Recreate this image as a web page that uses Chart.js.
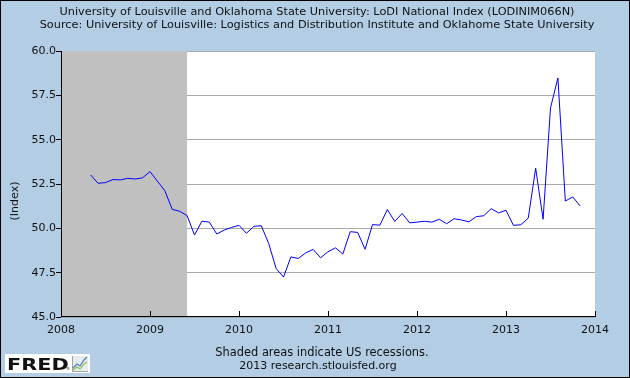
<!DOCTYPE html>
<html>
<head>
<meta charset="utf-8">
<title>LoDI National Index</title>
<script src="https://cdn.jsdelivr.net/npm/chart.js@4.4.1/dist/chart.umd.min.js"></script>
<style>
  html, body { margin: 0; padding: 0; background: #b3cde5; }
  #wrap { width: 630px; height: 378px; }
</style>
</head>
<body>
<div id="wrap"><canvas id="lodiChart" width="630" height="378"></canvas></div>
<script>
const months = [
  "2008-05", "2008-06", "2008-07", "2008-08", "2008-09", "2008-10", "2008-11", "2008-12",
  "2009-01", "2009-02", "2009-03", "2009-04", "2009-05", "2009-06", "2009-07", "2009-08", "2009-09", "2009-10", "2009-11", "2009-12",
  "2010-01", "2010-02", "2010-03", "2010-04", "2010-05", "2010-06", "2010-07", "2010-08", "2010-09", "2010-10", "2010-11", "2010-12",
  "2011-01", "2011-02", "2011-03", "2011-04", "2011-05", "2011-06", "2011-07", "2011-08", "2011-09", "2011-10", "2011-11", "2011-12",
  "2012-01", "2012-02", "2012-03", "2012-04", "2012-05", "2012-06", "2012-07", "2012-08", "2012-09", "2012-10", "2012-11", "2012-12",
  "2013-01", "2013-02", "2013-03", "2013-04", "2013-05", "2013-06", "2013-07", "2013-08", "2013-09", "2013-10", "2013-11"
];
const lodiValues = [
  53.01, 52.54, 52.58, 52.75, 52.73, 52.82, 52.78, 52.85,
  53.20, 52.66, 52.12, 51.07, 50.96, 50.72, 49.62, 50.40, 50.35, 49.68, 49.90, 50.05,
  50.17, 49.72, 50.11, 50.15, 49.15, 47.74, 47.25, 48.39, 48.30, 48.62, 48.81, 48.34,
  48.68, 48.90, 48.55, 49.81, 49.77, 48.82, 50.21, 50.18, 51.06, 50.39, 50.84, 50.31,
  50.35, 50.40, 50.35, 50.51, 50.26, 50.54, 50.47, 50.37, 50.66, 50.71, 51.11, 50.87,
  51.02, 50.17, 50.20, 50.58, 53.39, 50.51, 56.79, 58.48, 51.54, 51.77, 51.26
];
const yTicks = [45.0, 47.5, 50.0, 52.5, 55.0, 57.5, 60.0];
const xTicks = [2008, 2009, 2010, 2011, 2012, 2013, 2014];
// recession periods (start month, end month)
const recessions = [["2007-12", "2009-06"]];

const titleLines = [
  "University of Louisville and Oklahoma State University: LoDI National Index (LODINIM066N)",
  "Source: University of Louisville: Logistics and Distribution Institute and Oklahome State University"
];
const captionLines = ["Shaded areas indicate US recessions.", "2013 research.stlouisfed.org"];

// "2008-05" -> 2008.333
function toYear(s) {
  const [y, m] = s.split("-").map(Number);
  return y + (m - 1) / 12;
}

const points = months.map((m, i) => ({ x: toYear(m), y: lodiValues[i] }));
const FONT = "'DejaVu Sans', Verdana, sans-serif";

// background, recession shading, axes and the FRED texts
const fredPlugin = {
  id: "fredFrame",
  beforeDraw(chart) {
    const { ctx, chartArea: a } = chart;
    ctx.save();
    ctx.fillStyle = "#b3cde5";
    ctx.fillRect(0, 0, chart.width, chart.height);
    ctx.fillStyle = "#ffffff";
    ctx.fillRect(a.left, a.top, a.right - a.left, a.bottom - a.top);
    ctx.restore();
  },
  beforeDatasetsDraw(chart) {
    const { ctx, chartArea: a, scales } = chart;
    const x = scales.x;
    ctx.save();
    ctx.fillStyle = "#c0c0c0";
    recessions.forEach(([s, e]) => {
      const x0 = Math.max(x.getPixelForValue(toYear(s)), a.left);
      const x1 = Math.min(x.getPixelForValue(toYear(e)), a.right);
      if (x1 > x0) ctx.fillRect(x0, a.top, x1 - x0, a.bottom - a.top);
    });
    ctx.restore();
  },
  afterDatasetsDraw(chart) {
    const { ctx, chartArea: a, scales } = chart;
    ctx.save();
    ctx.strokeStyle = "#000";
    ctx.lineWidth = 1;
    ctx.beginPath();
    ctx.moveTo(a.left + 0.5, a.top);
    ctx.lineTo(a.left + 0.5, a.bottom - 0.5);
    ctx.lineTo(a.right + 0.5, a.bottom - 0.5);
    // x ticks point up into the plot
    xTicks.forEach((t) => {
      const px = Math.round(scales.x.getPixelForValue(t)) + 0.5;
      ctx.moveTo(px, a.bottom);
      ctx.lineTo(px, a.bottom - 6);
    });
    ctx.stroke();
    ctx.restore();
  },
  afterDraw(chart) {
    const { ctx } = chart;
    ctx.save();
    ctx.fillStyle = "#111";
    ctx.textAlign = "center";
    ctx.textBaseline = "alphabetic";
    ctx.font = "11.3px " + FONT;
    ctx.fillText(titleLines[0], 317, 15);
    ctx.fillText(titleLines[1], 317, 28);
    ctx.font = "11.4px " + FONT;
    ctx.fillText(captionLines[0], 322, 356);
    ctx.font = "11px " + FONT;
    ctx.fillText(captionLines[1], 318, 368.5);

    // y axis title
    ctx.save();
    ctx.translate(18, 201);
    ctx.rotate(-Math.PI / 2);
    ctx.textBaseline = "alphabetic";
    ctx.font = "11px " + FONT;
    ctx.fillText("(Index)", 0, 0);
    ctx.restore();

    // FRED logo
    ctx.fillStyle = "#ffffff";
    ctx.fillRect(5, 354, 85, 19);
    ctx.save();
    ctx.translate(7, 369.5);
    ctx.scale(1.3, 1);
    ctx.fillStyle = "#111";
    ctx.textAlign = "left";
    ctx.font = "bold 16px " + FONT;
    ctx.fillText("FRED", 0, 0);
    ctx.restore();
    ctx.fillStyle = "#111";
    ctx.font = "4px " + FONT;
    ctx.fillText("®", 68, 370);
    // little chart icon
    ctx.fillStyle = "#e8ecef";
    ctx.fillRect(72, 356, 16, 16);
    ctx.strokeStyle = "#9aa4ad";
    ctx.beginPath();
    ctx.moveTo(72.5, 356); ctx.lineTo(72.5, 371.5); ctx.lineTo(88, 371.5);
    ctx.stroke();
    ctx.lineWidth = 1.2;
    ctx.strokeStyle = "#4a7fc1";
    ctx.beginPath();
    ctx.moveTo(73, 368); ctx.lineTo(77, 364); ctx.lineTo(80, 366); ctx.lineTo(84, 360); ctx.lineTo(87, 357);
    ctx.stroke();
    ctx.strokeStyle = "#8fbf4a";
    ctx.beginPath();
    ctx.moveTo(73, 370); ctx.lineTo(77, 367); ctx.lineTo(80, 369); ctx.lineTo(84, 364); ctx.lineTo(87, 362);
    ctx.stroke();

    // frame
    ctx.strokeStyle = "#000";
    ctx.lineWidth = 1;
    ctx.strokeRect(0.5, 0.5, chart.width - 1, chart.height - 1);
    ctx.restore();
  }
};

const ctx = document.getElementById("lodiChart").getContext("2d");

new Chart(ctx, {
  type: "line",
  data: {
    datasets: [
      {
        label: "LoDI National Index",
        data: points,
        borderColor: "#0000ff",
        borderWidth: 1,
        pointRadius: 0,
        tension: 0,
        fill: false,
      },
    ],
  },
  options: {
    responsive: false,
    animation: false,
    events: [],
    layout: { padding: { left: 0, right: 35, top: 51, bottom: 0 } },
    plugins: {
      legend: { display: false },
      tooltip: { enabled: false },
      title: { display: false },
    },
    scales: {
      x: {
        type: "linear",
        min: 2008,
        max: 2014,
        afterBuildTicks: (scale) => {
          scale.ticks = xTicks.map((v) => ({ value: v }));
        },
        afterFit: (scale) => {
          scale.height = 61;
        },
        grid: { display: false, drawTicks: false },
        border: { display: false },
        ticks: {
          padding: 7,
          color: "#111",
          font: { family: FONT, size: 11 },
          maxRotation: 0,
          autoSkip: false,
          callback: (v) => String(v),
        },
      },
      y: {
        min: 45,
        max: 60,
        afterBuildTicks: (scale) => {
          scale.ticks = yTicks.map((v) => ({ value: v }));
        },
        afterFit: (scale) => {
          scale.width = 61;
        },
        grid: {
          color: "#aaaaaa",
          lineWidth: 1,
          drawTicks: true,
          tickLength: 5,
          tickColor: "#000",
        },
        border: { display: false },
        ticks: {
          padding: 0,
          color: "#111",
          font: { family: FONT, size: 11 },
          callback: (v) => v.toFixed(1),
        },
      },
    },
  },
  plugins: [fredPlugin],
});
</script>
</body>
</html>
